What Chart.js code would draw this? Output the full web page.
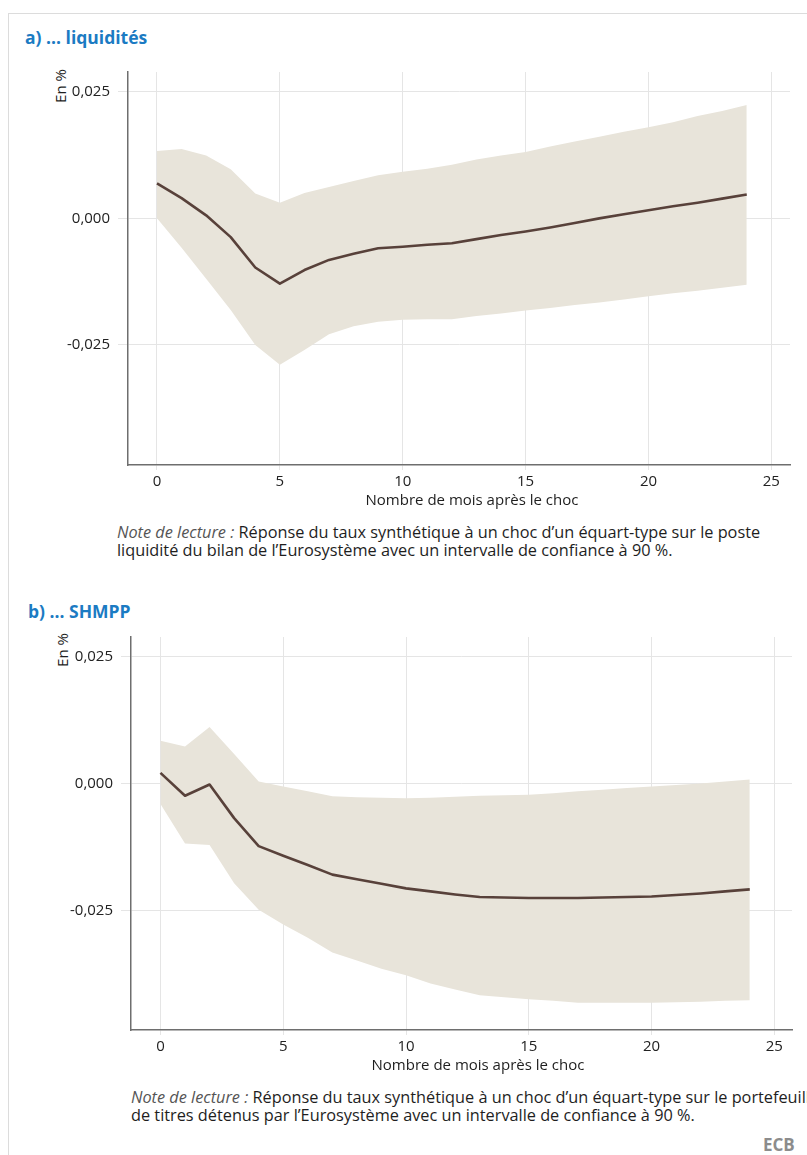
<!DOCTYPE html>
<html lang="fr">
<head>
<meta charset="utf-8">
<title>Réponse du taux synthétique</title>
<script src="https://cdn.jsdelivr.net/npm/chart.js@4.4.1/dist/chart.umd.min.js"></script>
<style>
  html, body { margin: 0; padding: 0; background: #fff; }
  body { width: 807px; height: 1155px; position: relative; overflow: hidden;
         font-family: "Open Sans", "DejaVu Sans", sans-serif; color: #1e1e1e; }
  .frame { position: absolute; left: 8px; top: 13px; width: 900px; height: 1300px;
           border-left: 1.5px solid #dcdcdc; border-top: 1.5px solid #dcdcdc; }
  .panel-title { position: absolute; font-weight: 700; font-size: 17.5px; color: #1b7bc3;
                 line-height: 20px; white-space: nowrap; }
  .unit { position: absolute; font-size: 15px; line-height: 16px; white-space: nowrap;
          transform: translate(-50%, -50%) rotate(-90deg); }
  .xtitle { position: absolute; font-size: 15px; line-height: 18px; white-space: nowrap;
            transform: translateX(-50%); }
  .note { position: absolute; font-size: 16.3px; line-height: 18px; white-space: nowrap; }
  .note i { color: #555; }
  .src { position: absolute; font-size: 17px; font-weight: 700; color: #8c8c8c; line-height: 20px; }
  canvas { position: absolute; left: 0; }
</style>
</head>
<body>
<div class="frame"></div>

<div class="panel-title" style="left:25px; top:27px;">a) ... liquidités</div>
<div class="unit" style="left:60px; top:86px;">En %</div>
<canvas id="chartLiq" width="807" height="440" style="top:55px;"></canvas>
<div class="xtitle" style="left:472px; top:490px;">Nombre de mois après le choc</div>
<div class="note" style="left:117px; top:523px;"><i>Note de lecture :</i> Réponse du taux synthétique à un choc d’un équart-type sur le poste<br>liquidité du bilan de l’Eurosystème avec un intervalle de confiance à 90 %.</div>

<div class="panel-title" style="left:28px; top:601px;">b) ... SHMPP</div>
<div class="unit" style="left:62px; top:650px;">En %</div>
<canvas id="chartShmpp" width="807" height="440" style="top:620px;"></canvas>
<div class="xtitle" style="left:478px; top:1055px;">Nombre de mois après le choc</div>
<div class="note" style="left:131px; top:1088px;"><i>Note de lecture :</i> Réponse du taux synthétique à un choc d’un équart-type sur le portefeuille<br>de titres détenus par l’Eurosystème avec un intervalle de confiance à 90 %.</div>

<div class="src" style="left:763px; top:1135px;">ECB</div>

<script>
// Months after the shock
const months = [0, 1, 2, 3, 4, 5, 6, 7, 8, 9, 10, 11, 12, 13, 14, 15, 16, 17, 18, 19, 20, 21, 22, 23, 24];

// a) Liquidity shock: impulse response and 90 % band (in %)
const liqResponse = [0.0069, 0.0040, 0.0006, -0.0037, -0.0097, -0.0129, -0.0102, -0.0082, -0.0070, -0.0059,
                     -0.0056, -0.0052, -0.0049, -0.0041, -0.0033, -0.0026, -0.0018, -0.0009, 0.0000, 0.0008,
                     0.0016, 0.0024, 0.0031, 0.0039, 0.0047];
const liqUpper = [0.0133, 0.0137, 0.0124, 0.0097, 0.0049, 0.0031, 0.0050, 0.0062, 0.0074, 0.0085,
                  0.0092, 0.0098, 0.0106, 0.0116, 0.0124, 0.0131, 0.0142, 0.0152, 0.0161, 0.0171,
                  0.0180, 0.0190, 0.0202, 0.0212, 0.0224];
const liqLower = [0.0000, -0.0058, -0.0119, -0.0181, -0.0250, -0.0289, -0.0260, -0.0229, -0.0213, -0.0204,
                  -0.0200, -0.0199, -0.0199, -0.0193, -0.0188, -0.0182, -0.0177, -0.0171, -0.0166, -0.0160,
                  -0.0154, -0.0148, -0.0143, -0.0137, -0.0131];

// b) SHMPP shock: impulse response and 90 % band (in %)
const shmppResponse = [0.0021, -0.0024, -0.0002, -0.0068, -0.0123, -0.0142, -0.0160, -0.0179, -0.0188, -0.0197,
                       -0.0206, -0.0212, -0.0218, -0.0223, -0.0224, -0.0225, -0.0225, -0.0225, -0.0224, -0.0223,
                       -0.0222, -0.0219, -0.0216, -0.0212, -0.0208];
const shmppUpper = [0.0084, 0.0073, 0.0111, 0.0058, 0.0004, -0.0006, -0.0015, -0.0025, -0.0027, -0.0028,
                    -0.0029, -0.0028, -0.0026, -0.0024, -0.0023, -0.0022, -0.0019, -0.0015, -0.0012, -0.0009,
                    -0.0006, -0.0003, 0.0000, 0.0004, 0.0008];
const shmppLower = [-0.0040, -0.0118, -0.0121, -0.0196, -0.0248, -0.0277, -0.0303, -0.0332, -0.0348, -0.0364,
                    -0.0377, -0.0393, -0.0405, -0.0416, -0.0420, -0.0424, -0.0427, -0.0431, -0.0431, -0.0431,
                    -0.0431, -0.0430, -0.0429, -0.0427, -0.0426];

// Axis tick values
const xTicks = [0, 5, 10, 15, 20, 25];
const yTicks = [-0.025, 0, 0.025];

const BAND = '#e8e4da';
const LINE = '#58413a';
const GRID = '#e5e5e5';
const AXIS = '#6e6e6e';
const TICK_FONT = { family: '"Open Sans", sans-serif', size: 15 };

function points(values) {
  return months.map((m, i) => ({ x: m, y: values[i] }));
}

function formatY(v) {
  return v.toFixed(3).replace('.', ',');
}

function makeChart(id, response, upper, lower, range) {
  new Chart(document.getElementById(id), {
    type: 'line',
    data: {
      datasets: [
        { data: points(lower), borderWidth: 0, pointRadius: 0, fill: false, order: 3 },
        { data: points(upper), borderWidth: 0, pointRadius: 0, fill: '-1', backgroundColor: BAND, order: 2 },
        { data: points(response), borderColor: LINE, borderWidth: 2.6, pointRadius: 0, fill: false,
          tension: 0, borderJoinStyle: 'round', borderCapStyle: 'butt', order: 1 }
      ]
    },
    options: {
      responsive: false,
      animation: false,
      devicePixelRatio: 1,
      layout: { padding: { top: range.top, right: range.right, left: 0, bottom: 0 } },
      plugins: { legend: { display: false }, tooltip: { enabled: false } },
      elements: { line: { tension: 0 } },
      scales: {
        x: {
          type: 'linear',
          min: range.xMin,
          max: range.xMax,
          afterBuildTicks: s => { s.ticks = xTicks.map(v => ({ value: v })); },
          afterFit: s => { s.height = 30; },
          grid: { color: GRID, lineWidth: 1, drawTicks: true, tickLength: 5 },
          border: { display: true, color: AXIS, width: 1.5 },
          ticks: { font: TICK_FONT, color: '#222', padding: 3, maxRotation: 0, autoSkip: false,
                   callback: v => String(v) }
        },
        y: {
          min: range.yMin,
          max: range.yMax,
          afterBuildTicks: s => { s.ticks = yTicks.map(v => ({ value: v })); },
          afterFit: s => { s.width = range.yWidth; },
          grid: { color: GRID, lineWidth: 1, drawTicks: true, tickLength: 10 },
          border: { display: true, color: AXIS, width: 1.5 },
          ticks: { font: TICK_FONT, color: '#222', padding: 8, callback: v => formatY(v) }
        }
      }
    }
  });
}

makeChart('chartLiq', liqResponse, liqUpper, liqLower,
  { xMin: -1.18, xMax: 25.76, yMin: -0.0487, yMax: 0.0289, top: 14, right: 17, yWidth: 128 });
makeChart('chartShmpp', shmppResponse, shmppUpper, shmppLower,
  { xMin: -1.20, xMax: 25.72, yMin: -0.04844, yMax: 0.0288, top: 13, right: 15, yWidth: 131 });
</script>
</body>
</html>
